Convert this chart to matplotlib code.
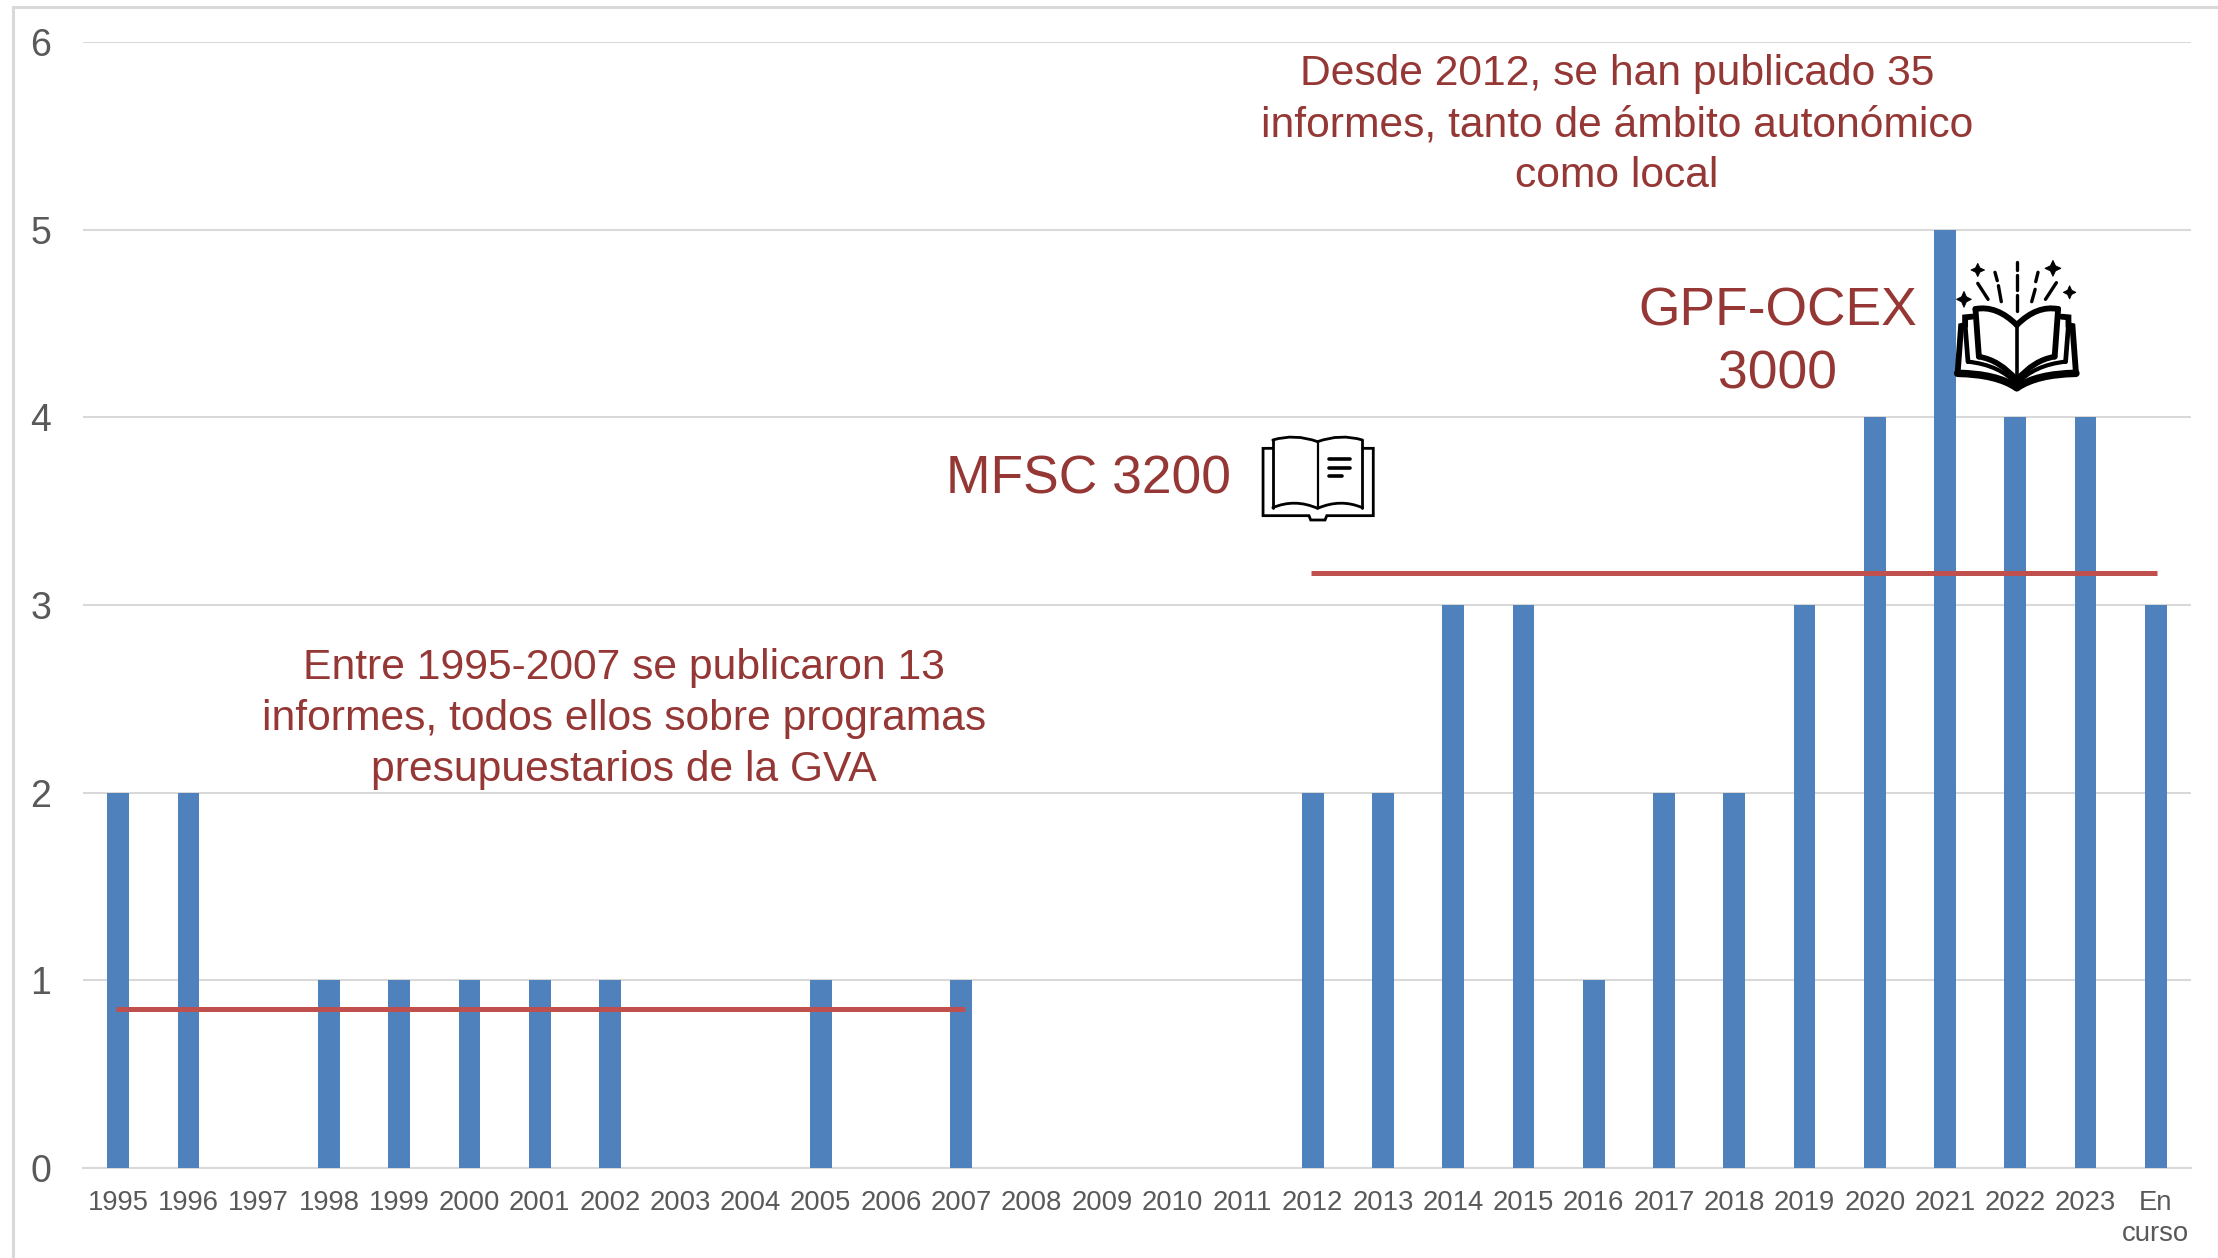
# -*- coding: utf-8 -*-
import matplotlib
matplotlib.use("Agg")
import matplotlib.pyplot as plt
from matplotlib.path import Path
from matplotlib.patches import PathPatch, Polygon

plt.rcParams["font.family"] = ["Liberation Sans", "DejaVu Sans"]

W, H = 2218, 1258

# datos
categories = [str(y) for y in range(1995, 2024)] + ["En\ncurso"]
informes = [2, 2, 0, 1, 1, 1, 1, 1, 0, 0, 1, 0, 1, 0, 0, 0, 0,
            2, 2, 3, 3, 1, 2, 2, 3, 4, 5, 4, 4, 3]
mfsc_x = [-0.03, 12.05]
mfsc_y = [0.847, 0.847]
gpf_x = [16.98, 29.02]
gpf_y = [3.17, 3.17]
y_ticks = [0, 1, 2, 3, 4, 5, 6]

BAR = "#4F81BD"
RED_LINE = "#C0504D"
TXT = "#953735"
GREY = "#595959"
GRID = "#D9D9D9"

fig = plt.figure(figsize=(W / 100, H / 100), dpi=100, facecolor="white")
ax = fig.add_axes([83 / W, 1 - 1168 / H, (2191 - 83) / W, (1168 - 42) / H])

ax.bar(range(len(categories)), informes, width=0.31, color=BAR, zorder=3)
ax.plot(mfsc_x, mfsc_y, color=RED_LINE, lw=3.6, zorder=4, solid_capstyle="butt")
ax.plot(gpf_x, gpf_y, color=RED_LINE, lw=3.6, zorder=4, solid_capstyle="butt")

ax.set_xlim(-0.5, len(categories) - 0.5)
ax.set_ylim(0, 6)
ax.set_yticks(y_ticks)
ax.set_xticks(range(len(categories)))
ax.set_xticklabels(categories, fontsize=19.8, color=GREY, linespacing=1.25)
ax.tick_params(axis="y", length=0, pad=23, labelsize=27, labelcolor=GREY)
ax.tick_params(axis="x", length=0, pad=16)
ax.grid(axis="y", color=GRID, lw=1.5, zorder=1)
ax.set_axisbelow(True)
for name in ["top", "right", "left"]:
    ax.spines[name].set_visible(False)
ax.spines["bottom"].set_color(GRID)
ax.spines["bottom"].set_linewidth(1.5)

# capa en pixeles para marco, textos e iconos
ov = fig.add_axes([0, 0, 1, 1], facecolor="none")
ov.set_xlim(0, W)
ov.set_ylim(H, 0)
ov.axis("off")

ov.plot([13, 13, W], [H, 7, 7], color=GRID, lw=2.2, solid_joinstyle="miter")

ov.text(1617, 125, "Desde 2012, se han publicado 35\ninformes, tanto de ámbito autonómico\ncomo local",
        ha="center", va="center", fontsize=30.7, color=TXT, linespacing=1.345)
ov.text(624, 719, "Entre 1995-2007 se publicaron 13\ninformes, todos ellos sobre programas\npresupuestarios de la GVA",
        ha="center", va="center", fontsize=30.7, color=TXT, linespacing=1.345)
ov.text(1089, 479, "MFSC 3200", ha="center", va="center", fontsize=38.4, color=TXT)
ov.text(1778, 343, "GPF-OCEX\n3000", ha="center", va="center", fontsize=38.4, color=TXT, linespacing=1.35)


# los iconos se trazaron sobre el recorte ampliado: x/1.742, y/3
def pz(zx, zy):
    return 1220 + zx / 1.742, 240 + zy / 3


def curve(points, lw, fill=None):
    # points: inicio y despues pares (control, destino)
    verts = [pz(*p) for p in points]
    codes = [Path.MOVETO] + [Path.CURVE3] * (len(verts) - 1)
    ov.add_patch(PathPatch(Path(verts, codes), fc=fill or "none", ec="black", lw=lw,
                           capstyle="round", joinstyle="round", zorder=6))


def poly(points, lw):
    xs, ys = zip(*[pz(*p) for p in points])
    ov.plot(xs, ys, color="black", lw=lw, solid_capstyle="round", solid_joinstyle="miter", zorder=6)


def sparkle(zx, zy, rx, ry):
    # estrella de cuatro puntas
    k = 0.32
    pts = [(zx, zy - ry), (zx + rx * k, zy - ry * k), (zx + rx, zy), (zx + rx * k, zy + ry * k),
           (zx, zy + ry), (zx - rx * k, zy + ry * k), (zx - rx, zy), (zx - rx * k, zy - ry * k)]
    ov.add_patch(Polygon([pz(*p) for p in pts], closed=True, fc="black", ec="black", lw=0.6, zorder=6))


# libro fino (MFSC)
poly([(92, 625), (75, 625), (75, 827), (155, 827), (158, 840), (183, 840), (186, 827), (267, 827), (267, 625), (249, 625)], 2.0)
for s in (-1, 1):
    edge = 170 + s * 78
    poly([(edge, 600), (edge, 803)], 2.0)
    curve([(170, 605), (170 + s * 40, 580), (edge, 600)], 2.0)
    curve([(170, 805), (170 + s * 40, 775), (edge, 803)], 2.0)
poly([(170, 605), (170, 805)], 1.6)
poly([(190, 658), (226, 658)], 2.6)
poly([(190, 683), (226, 683)], 2.6)
poly([(190, 708), (213, 708)], 2.6)

# libro con destellos (GPF-OCEX)
for s in (-1, 1):
    edge = 1388 + s * 72
    curve([(1388, 255), (1388 + s * 35, 195), (edge, 207)], 4.2)
    poly([(edge, 207), (edge - s * 6, 350)], 4.2)
    curve([(edge - s * 6, 350), (1388 + s * 30, 360), (1388, 420)], 4.0)
    poly([(1388 + s * 78, 230), (1388 + s * 90, 232), (1388 + s * 90, 255), (1388 + s * 97, 258), (1388 + s * 103, 398)], 4.2)
    curve([(1388 + s * 85, 365), (1388 + s * 30, 375), (1388, 432)], 3.0)
    curve([(1388 + s * 103, 400), (1388 + s * 35, 402), (1388, 443)], 5.4)
    poly([(1388 + s * 90, 255), (1388 + s * 85, 365)], 3.4)
poly([(1388, 255), (1388, 420)], 2.6)

dashes = [
    ((1388, 65), (1388, 90)), ((1388, 105), (1388, 150)), ((1388, 165), (1388, 212)),
    ((1350, 97), (1354, 122)), ((1356, 137), (1361, 185)), ((1320, 130), (1338, 178)),
    ((1425, 97), (1421, 125)), ((1420, 148), (1414, 185)), ((1457, 128), (1438, 178)),
]
for a, b in dashes:
    poly([a, b], 2.4)
sparkle(1320, 90, 12, 20)
sparkle(1296, 178, 13, 24)
sparkle(1451, 85, 14, 24)
sparkle(1480, 157, 11, 20)

fig.savefig("out.png", dpi=100, facecolor="white")
